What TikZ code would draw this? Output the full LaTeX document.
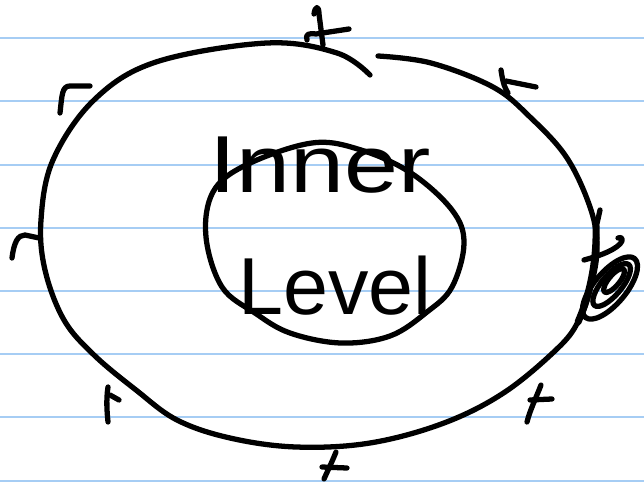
\documentclass[tikz,border=0pt]{standalone}
\usepackage{fontspec}
\setmainfont{Liberation Sans}
\newcommand\handfont{\fontsize{69}{69}\selectfont}
\begin{document}
\begin{tikzpicture}[x=0.03cm,y=-0.03cm,line cap=round,line join=round,
  pen/.style={black,line width=4.5pt},
  ruled/.style={ruleblue,line width=1.6pt}]
\definecolor{ruleblue}{HTML}{A6CDF4}
\useasboundingbox (0,0) rectangle (644,484);
\foreach \ly in {38,101,165,228,291,354,417,481}
  \draw[ruled] (0,\ly) -- (644,\ly);
\draw[pen] plot[smooth,tension=0.6] coordinates {(378,56) (431,63) (493,87) (530,117) (567,158) (591,210) (597,250) (590,290) (579,320) (559,347) (505,392) (444,423) (370,443) (296,447) (230,438) (177,420) (136,390) (94,355) (64,320) (45,270) (41,220) (53,160) (94,100) (156,62) (267,43) (337,53) (370,75)};
\draw[pen] plot[smooth cycle,tension=0.6] coordinates {(206,237) (213,192) (246,165) (312,143) (361,150) (411,173) (452,210) (464,243) (452,287) (427,312) (390,336) (341,343) (290,333) (255,313) (222,287)};
\node[anchor=base west,inner sep=0pt,font=\handfont] (inner) at (209,193) {\scalebox{1.2}[1]{Inner}};
\node[anchor=base west,inner sep=0pt,font=\handfont] (level) at (238,314) {Level};
\draw[pen] (60,113) .. controls (62,95) and (62,86) .. (70,86) -- (90,86);
\draw[pen] (314,14) .. controls (315,6) and (319,5) .. (319,14) -- (323,45);
\draw[pen] (307,40) .. controls (305,34) and (309,33) .. (316,34) -- (349,29);
\draw[pen] (501,70) .. controls (503,84) and (505,88) .. (508,93);
\draw[pen] (506,81) -- (536,87);
\draw[pen] (12,258) .. controls (14,242) and (18,235) .. (25,235) -- (39,238);
\draw[pen] (108,387) .. controls (106,400) and (107,412) .. (108,422);
\draw[pen] (110,395) -- (119,400);
\draw[pen] (336,452) .. controls (332,462) and (328,470) .. (324,479);
\draw[pen] (322,467) -- (347,468);
\draw[pen] (541,385) .. controls (536,398) and (530,410) .. (527,422);
\draw[pen] (530,400) -- (552,399);
\draw[pen] (600,210) -- (596,228);
\draw[pen,line width=6pt] (596,226) .. controls (597,260) and (590,295) .. (578,322);
\draw[pen] (584,260) .. controls (595,257) and (612,252) .. (620,244) .. controls (624,240) and (622,236) .. (618,238);
\begin{scope}[shift={(610,288)},rotate=50]
\draw[pen] (0,0) ellipse [x radius=1.15cm,y radius=0.48cm];
\draw[pen] (0.1cm,0.02cm) ellipse [x radius=0.8cm,y radius=0.3cm];
\draw[pen] (0.25cm,0.05cm) ellipse [x radius=0.45cm,y radius=0.16cm];
\end{scope}
\end{tikzpicture}
\end{document}
